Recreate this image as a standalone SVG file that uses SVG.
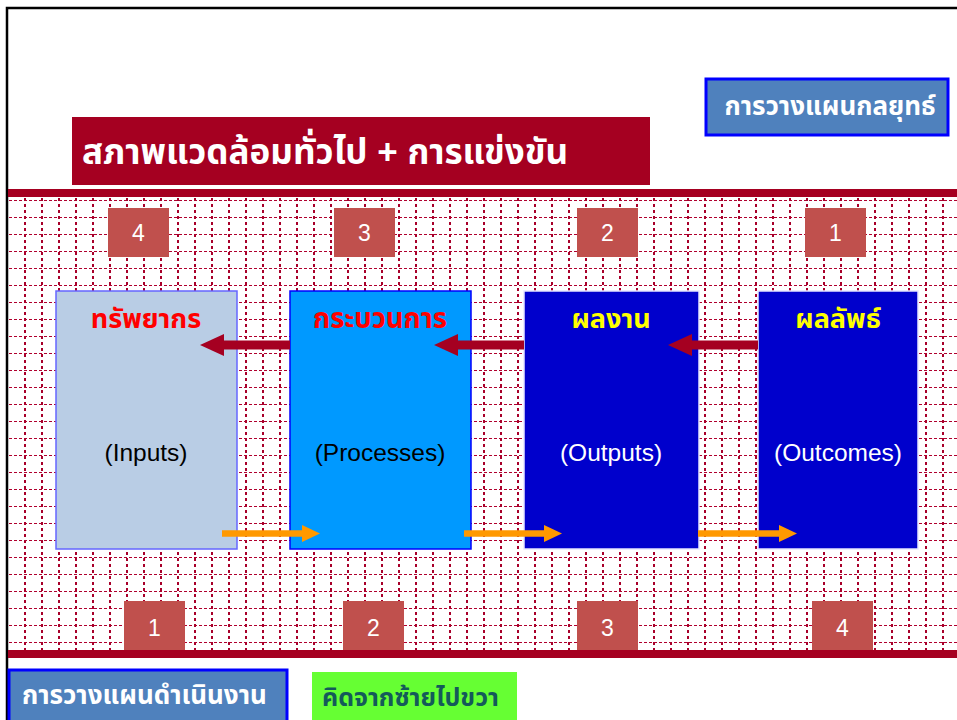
<svg xmlns="http://www.w3.org/2000/svg" width="957" height="720" viewBox="0 0 957 720">
<style>
.th{font-family:"Liberation Sans","Noto Sans Thai","Noto Sans",sans-serif;font-weight:bold}
.lat{font-family:"Liberation Sans",Arial,sans-serif}
.num{font-family:"Liberation Sans",Arial,sans-serif;font-size:23px;fill:#fff;text-anchor:middle}
.nb{fill:#C0504D}
.band{fill:#A50021}
.plan{fill:#4F81BD;stroke:#0000FF;stroke-width:3}
.bigbox{stroke-width:1.5}
</style>
<defs>
<marker id="hl" viewBox="0 0 24 22" markerWidth="24" markerHeight="22" refX="0" refY="11" orient="auto" markerUnits="userSpaceOnUse"><path d="M0 0L24 11L0 22Z" fill="#A50021"/></marker>
</defs>
<rect width="957" height="720" fill="#fff"/>
<g id="frame">
<path d="M7 720V8H957" fill="none" stroke="#000" stroke-width="2.5"/>
</g>
<g id="grid">
<rect class="band" x="8" y="189" width="949" height="8"/>
<rect class="band" x="8" y="650" width="949" height="8"/>
<path fill="none" stroke="#B0002E" stroke-width="1" stroke-dasharray="3,2" d="M9 200.5H957M9 217.5H957M9 234.5H957M9 251.5H957M9 268.5H957M9 285.5H957M9 302.5H957M9 319.5H957M9 336.5H957M9 353.5H957M9 370.5H957M9 387.5H957M9 404.5H957M9 421.5H957M9 438.5H957M9 455.5H957M9 472.5H957M9 489.5H957M9 506.5H957M9 523.5H957M9 540.5H957M9 557.5H957M9 574.5H957M9 591.5H957M9 608.5H957M9 625.5H957M9 642.5H957"/>
<path fill="none" stroke="#A8002A" stroke-width="2" stroke-dasharray="3,3" d="M25 198V650M42 198V650M59 198V650M76 198V650M93 198V650M110 198V650M127 198V650M144 198V650M161 198V650M178 198V650M195 198V650M212 198V650M229 198V650M246 198V650M263 198V650M280 198V650M297 198V650M314 198V650M331 198V650M348 198V650M365 198V650M382 198V650M399 198V650M416 198V650M433 198V650M450 198V650M467 198V650M484 198V650M501 198V650M518 198V650M535 198V650M552 198V650M569 198V650M586 198V650M603 198V650M620 198V650M637 198V650M654 198V650M671 198V650M688 198V650M705 198V650M722 198V650M739 198V650M756 198V650M773 198V650M790 198V650M807 198V650M824 198V650M841 198V650M858 198V650M875 198V650M892 198V650M909 198V650M926 198V650M943 198V650"/>
</g>
<g id="title">
<rect class="band" x="72" y="117" width="578" height="68"/>
<text class="th" x="82" y="164" font-size="35" fill="#fff">สภาพแวดล้อมทั่วไป + การแข่งขัน</text>
</g>
<g id="strategic">
<rect class="plan" x="706" y="79" width="242" height="56"/>
<text class="th" x="830" y="115" font-size="26" fill="#fff" text-anchor="middle">การวางแผนกลยุทธ์</text>
</g>
<g id="top-numbers">
<rect class="nb" x="108" y="208" width="61" height="49"/><text class="num" x="138.5" y="241">4</text>
<rect class="nb" x="334" y="208" width="61" height="49"/><text class="num" x="364.5" y="241">3</text>
<rect class="nb" x="577" y="208" width="61" height="49"/><text class="num" x="607.5" y="241">2</text>
<rect class="nb" x="805" y="208" width="61" height="49"/><text class="num" x="835.5" y="241">1</text>
</g>
<g id="bottom-numbers">
<rect class="nb" x="124" y="601" width="61" height="49"/><text class="num" x="154.5" y="636">1</text>
<rect class="nb" x="343" y="601" width="61" height="49"/><text class="num" x="373.5" y="636">2</text>
<rect class="nb" x="577" y="601" width="61" height="49"/><text class="num" x="607.5" y="636">3</text>
<rect class="nb" x="812" y="601" width="61" height="49"/><text class="num" x="842.5" y="636">4</text>
</g>
<g id="inputs">
<rect class="bigbox" x="56" y="291" width="181" height="258" fill="#B9CDE5" stroke="#6666FF"/>
<text class="th" x="146" y="328" font-size="27" fill="#FF0000" text-anchor="middle">ทรัพยากร</text>
<text class="lat" x="146" y="461" font-size="24.5" fill="#000" text-anchor="middle">(Inputs)</text>
</g>
<g id="processes">
<rect class="bigbox" x="290" y="291" width="181" height="258" fill="#0099FF" stroke="#0000FF"/>
<text class="th" x="380" y="328" font-size="27.5" fill="#FF0000" text-anchor="middle">กระบวนการ</text>
<text class="lat" x="380" y="461" font-size="24.5" fill="#000" text-anchor="middle">(Processes)</text>
</g>
<g id="outputs">
<rect class="bigbox" x="524" y="291" width="175" height="258" fill="#0000CC" stroke="#E6E6FF"/>
<text class="th" x="611" y="328" font-size="27" fill="#FFFF00" text-anchor="middle">ผลงาน</text>
<text class="lat" x="611" y="461" font-size="24.5" fill="#fff" text-anchor="middle">(Outputs)</text>
</g>
<g id="outcomes">
<rect class="bigbox" x="758" y="291" width="160" height="258" fill="#0000CC" stroke="#E6E6FF"/>
<text class="th" x="838" y="328" font-size="27" fill="#FFFF00" text-anchor="middle">ผลลัพธ์</text>
<text class="lat" x="838" y="461" font-size="24.5" fill="#fff" text-anchor="middle">(Outcomes)</text>
</g>
<g id="connectors">
<path d="M290 345H224" stroke="#A50021" stroke-width="9" marker-end="url(#hl)"/>
<path d="M524 345H458" stroke="#A50021" stroke-width="9" marker-end="url(#hl)"/>
<path d="M758 345H692" stroke="#A50021" stroke-width="9" marker-end="url(#hl)"/>
<path d="M222 533.5H302" stroke="#FF9900" stroke-width="6.5"/><path d="M302 525L320 533.5L302 542Z" fill="#FF9900"/>
<path d="M464 533.5H544" stroke="#FF9900" stroke-width="6.5"/><path d="M544 525L562 533.5L544 542Z" fill="#FF9900"/>
<path d="M698 533.5H779" stroke="#FF9900" stroke-width="6.5"/><path d="M779 525L797 533.5L779 542Z" fill="#FF9900"/>
</g>
<g id="operational">
<rect class="plan" x="9" y="670" width="278" height="55"/>
<text class="th" x="22" y="704" font-size="26" fill="#fff">การวางแผนดำเนินงาน</text>
</g>
<g id="direction">
<rect x="312" y="672" width="205" height="50" fill="#66FF33"/>
<text class="th" x="322" y="706" font-size="25" fill="#145A5A">คิดจากซ้ายไปขวา</text>
</g>
</svg>
